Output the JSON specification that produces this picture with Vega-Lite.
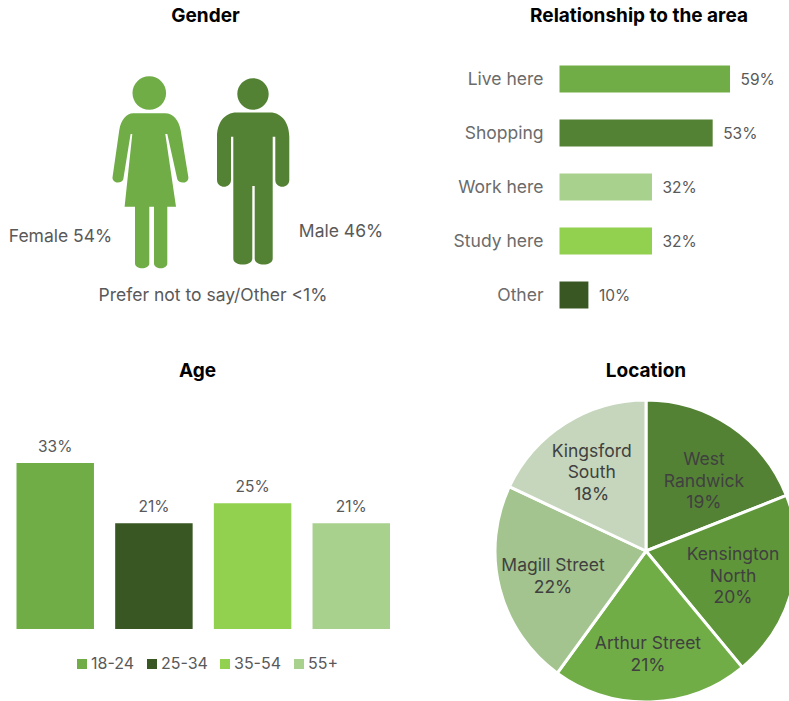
{
"$schema":"https://vega.github.io/schema/vega-lite/v6.json",
"padding":{"left":0,"top":7,"right":0,"bottom":0},
"background":"white",
"columns":2,
"align":"none",
"bounds":"flush",
"spacing":{"row":78,"column":100},
"resolve":{"scale":{"color":"independent","shape":"independent","x":"independent","y":"independent","theta":"independent"},"legend":{"color":"independent"}},
"config":{"view":{"stroke":null},"font":"Inter","title":{"font":"Inter","fontSize":19,"fontWeight":"bold","color":"#000000"}},
"concat":[
{"title":{"text":"Gender","offset":26,"dx":8},"width":395,"height":270,
 "layer":[
 {"data":{"values":[{"gender":"Female","gx":150.3,"gy":172.5},{"gender":"Male","gx":253,"gy":171.7}]},
  "mark":{"type":"point","filled":true,"opacity":1,"size":4,"strokeWidth":0},
  "encoding":{"x":{"field":"gx","type":"quantitative","scale":{"domain":[0,395]},"axis":null},
   "y":{"field":"gy","type":"quantitative","scale":{"domain":[322,52]},"axis":null},
   "color":{"field":"gender","type":"nominal","scale":{"domain":["Female","Male"],"range":["#70AD47","#548235"]},"legend":null},
   "shape":{"field":"gender","type":"nominal","legend":null,"scale":{"domain":["Female","Male"],"range":[
   "M -17.8 -79.5 C -17.8 -88.8 -10.3 -96.3 -1 -96.3 C 8.3 -96.3 15.8 -88.8 15.8 -79.5 C 15.8 -70.2 8.3 -62.7 -1 -62.7 C -10.3 -62.7 -17.8 -70.2 -17.8 -79.5 Z M -17 -59.2 L 14.7 -59.2 C 23 -59.2 28.5 -52 30.3 -42.5 L 38 4.2 C 39 11 29 12 27 6.8 L 17 -38.5 L 15 -38.5 L 25.7 34.2 L 17 34.2 L 17 90.8 C 17 97.5 3.7 97.5 3.7 90.8 L 3.7 34.2 L -1 34.2 L -1 90.8 C -1 97.5 -15.3 97.5 -15.3 90.8 L -15.3 34.2 L -25.7 34.2 L -18 -38.5 L -19.7 -38.5 L -27 6.8 C -29 12 -39 11 -37.7 4.2 L -31 -42.5 C -29.5 -52 -24 -59.2 -17 -59.2 Z",
   "M -15.7 -77.7 C -15.7 -86.4 -8.7 -93.4 0 -93.4 C 8.7 -93.4 15.7 -86.4 15.7 -77.7 C 15.7 -69 8.7 -62 0 -62 C -8.7 -62 -15.7 -69 -15.7 -77.7 Z M -16.3 -59.3 L 17 -59.3 C 29 -59.3 36.3 -48.5 36.3 -35 L 36.3 8.3 C 36.3 17.3 22.3 17.3 22.3 8.3 L 22.3 -35 L 19.7 -35 L 19.7 86.7 C 19.7 94.7 1.7 94.7 1.7 86.7 L 1.7 14.3 L -0.7 14.3 L -0.7 86.7 C -0.7 94.7 -19.7 94.7 -19.7 86.7 L -19.7 -35 L -22 -35 L -22 8.3 C -22 17.3 -36 17.3 -36 8.3 L -36 -35 C -36 -48.5 -29 -59.3 -16.3 -59.3 Z"]}}}},
 {"data":{"values":[{"label":"Female 54%","gx":60.5,"gy":237},{"label":"Male 46%","gx":341,"gy":232},{"label":"Prefer not to say/Other <1%","gx":213,"gy":296}]},
  "mark":{"type":"text","fontSize":17.5,"color":"#595959","baseline":"middle"},
  "encoding":{"x":{"field":"gx","type":"quantitative","scale":{"domain":[0,395]},"axis":null},
   "y":{"field":"gy","type":"quantitative","scale":{"domain":[322,52]},"axis":null},
   "text":{"field":"label","type":"nominal"}}}
 ]},
{"title":{"text":"Relationship to the area","offset":26,"dx":-3},"width":294,"height":270,
 "data":{"values":[{"item":"Live here","share":59,"label":"59%"},{"item":"Shopping","share":53,"label":"53%"},{"item":"Work here","share":32,"label":"32%"},{"item":"Study here","share":32,"label":"32%"},{"item":"Other","share":10,"label":"10%"}]},
 "encoding":{"y":{"field":"item","type":"nominal","sort":null,"scale":{"paddingInner":0.5,"paddingOuter":0.25},
   "axis":{"title":null,"domain":false,"ticks":false,"labelFont":"Inter","labelFontSize":17.5,"labelColor":"#6b6b6b","labelPadding":16.5,"offset":-64.5,"labelOffset":1}},
  "x":{"field":"share","type":"quantitative","scale":{"domain":[0,77.85],"range":[64.5,289.5]},"axis":null}},
 "layer":[
 {"mark":{"type":"bar"},"encoding":{"color":{"field":"item","type":"nominal","legend":null,"scale":{"domain":["Live here","Shopping","Work here","Study here","Other"],"range":["#70AD47","#548235","#A9D18E","#92D050","#385723"]}}}},
 {"mark":{"type":"text","align":"left","baseline":"middle","dx":10.5,"dy":1,"fontSize":15.5,"color":"#595959"},"encoding":{"text":{"field":"label","type":"nominal"}}}
 ]},
{"title":{"text":"Age","offset":19},"width":395,"height":229,
 "data":{"values":[{"age":"18-24","share":33,"label":"33%"},{"age":"25-34","share":21,"label":"21%"},{"age":"35-54","share":25,"label":"25%"},{"age":"55+","share":21,"label":"21%"}]},
 "encoding":{"x":{"field":"age","type":"nominal","sort":null,"axis":null,"scale":{"range":[16.5,390],"paddingInner":0.215,"paddingOuter":0}},
  "y":{"field":"share","type":"quantitative","axis":null,"scale":{"domain":[0,45.5]}}},
 "layer":[
 {"mark":{"type":"bar"},"encoding":{"color":{"field":"age","type":"nominal","scale":{"domain":["18-24","25-34","35-54","55+"],"range":["#70AD47","#385723","#92D050","#A9D18E"]},
   "legend":{"title":null,"orient":"none","legendX":74,"legendY":256,"direction":"horizontal","columns":4,"symbolType":"square","symbolSize":100,"symbolStrokeWidth":0,"labelFont":"Inter","labelFontSize":16,"labelColor":"#595959","columnPadding":9,"labelOffset":1}}}},
 {"mark":{"type":"text","baseline":"middle","dy":-16,"fontSize":15.5,"color":"#595959"},"encoding":{"text":{"field":"label","type":"nominal"}}}
 ]},
{"title":{"text":"Location","offset":13},"width":302,"height":302,
 "data":{"values":[{"area":"West Randwick","ord":1,"share":19,"lines":["West","Randwick","19%"],"n":3,"at":11.0,"r":90.9},{"area":"Kensington North","ord":2,"share":20,"lines":["Kensington","North","20%"],"n":3,"at":29.4,"r":90.5},{"area":"Arthur Street","ord":3,"share":21,"lines":["Arthur Street","21%"],"n":2,"at":49.7,"r":103},{"area":"Magill Street","ord":4,"share":22,"lines":["Magill Street","22%"],"n":2,"at":70.8,"r":96.3},{"area":"Kingsford South","ord":5,"share":18,"lines":["Kingsford","South","18%"],"n":3,"at":90.4,"r":95.7}]},
 "layer":[
 {"mark":{"type":"arc","stroke":"#ffffff","strokeWidth":3},"encoding":{"theta":{"field":"share","type":"quantitative","stack":true,"scale":{"domain":[0,100]}},"order":{"field":"ord","type":"quantitative"},"color":{"field":"area","type":"nominal","legend":null,"scale":{"domain":["West Randwick","Kensington North","Arthur Street","Magill Street","Kingsford South"],"range":["#548235","#5F9639","#70AD47","#A3C48E","#C5D6BC"]}}}},
 {"transform":[{"filter":"datum.n==3"}],"mark":{"type":"text","dy":-20.5,"fontSize":17.5,"lineHeight":21.5,"color":"#404040","baseline":"middle"},"encoding":{"theta":{"field":"at","type":"quantitative","stack":false,"scale":{"domain":[0,100]}},"radius":{"field":"r","type":"quantitative","scale":{"type":"linear","domain":[0,151],"range":[0,151]}},"text":{"field":"lines"}}},
 {"transform":[{"filter":"datum.n==2"}],"mark":{"type":"text","dy":-9.75,"fontSize":17.5,"lineHeight":21.5,"color":"#404040","baseline":"middle"},"encoding":{"theta":{"field":"at","type":"quantitative","stack":false,"scale":{"domain":[0,100]}},"radius":{"field":"r","type":"quantitative","scale":{"type":"linear","domain":[0,151],"range":[0,151]}},"text":{"field":"lines"}}}
 ]}
]
}
